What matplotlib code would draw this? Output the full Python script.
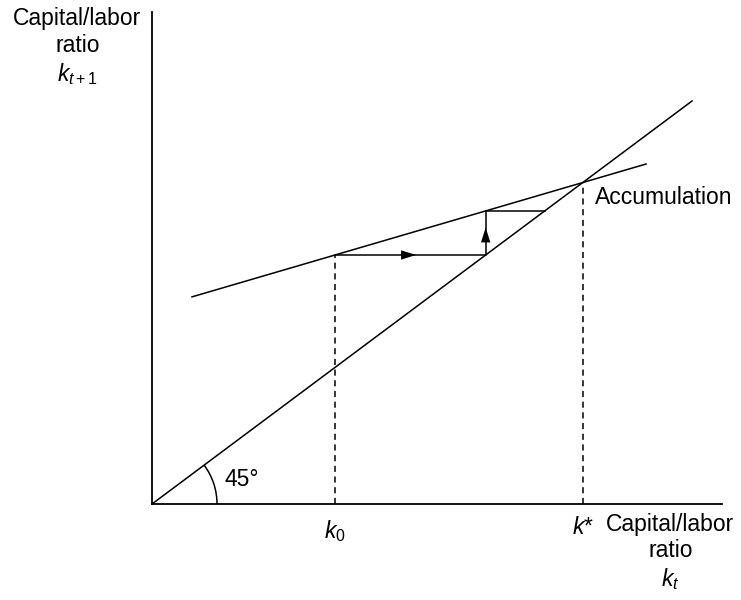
import matplotlib.pyplot as plt
from matplotlib.patches import Arc
import numpy as np

plt.rcParams['font.family'] = ['Liberation Sans', 'DejaVu Sans']
plt.rcParams['mathtext.fontset'] = 'custom'
plt.rcParams['mathtext.rm'] = 'Liberation Sans'
plt.rcParams['mathtext.it'] = 'Liberation Sans:italic'

# accumulation line k_{t+1} = a + b * k_t
acc_a = 4.85
acc_b = 0.392
acc_range = [0.74, 9.15]
diag_range = [0.0, 10.0]
k0 = 3.39
k_star = acc_a / (1 - acc_b)

# staircase from k0 (two steps)
k1 = acc_a + acc_b * k0
k2 = acc_a + acc_b * k1

x_axis_end = 10.56
y_axis_end = 12.2

fig = plt.figure(figsize=(7.41, 6.0), dpi=100)
ax = fig.add_axes([0, 0, 1, 1])
ax.set_xlim(-2.815, 10.907)
ax.set_ylim(-2.382, 12.506)
ax.axis('off')

lw = 1.1
# axes
ax.plot([0, x_axis_end], [0, 0], color='black', lw=1.3)
ax.plot([0, 0], [0, y_axis_end], color='black', lw=1.3)

# 45 degree line and accumulation line
xd = np.array(diag_range)
ax.plot(xd, xd, color='black', lw=lw)
xa = np.array(acc_range)
ax.plot(xa, acc_a + acc_b * xa, color='black', lw=lw)

# dashed drops
dash = (0, (4, 3))
ax.plot([k0, k0], [0, k1], color='black', lw=lw, linestyle=dash)
ax.plot([k_star, k_star], [0, k_star], color='black', lw=lw, linestyle=dash)

# staircase
ax.plot([k0, k1, k1, k2], [k1, k1, k2, k2], color='black', lw=lw)

# arrowheads
arrow_kw = dict(arrowstyle='-|>,head_length=0.9,head_width=0.28', mutation_scale=12,
                color='black', lw=0, shrinkA=0, shrinkB=0)
hx = k0 + 0.52 * (k1 - k0)
ax.annotate('', xy=(hx + 0.05, k1), xytext=(hx - 0.3, k1), arrowprops=arrow_kw)
vy = k1 + 0.58 * (k2 - k1)
ax.annotate('', xy=(k1, vy + 0.05), xytext=(k1, vy - 0.4), arrowprops=arrow_kw)

# 45 degree arc
r_px = 65
ax.add_patch(Arc((0, 0), 2 * r_px / 54, 2 * r_px / 40.3, theta1=0, theta2=45,
                 color='black', lw=lw))

fs = 16.5
ax.text(1.35, 0.6, '45°', fontsize=fs, ha='left', va='center')
ax.text(-1.38, 12.33, 'Capital/labor\nratio\n$k_{t+1}$', fontsize=fs,
        ha='center', va='top', linespacing=1.2)
ax.text(k0, -0.35, '$k_0$', fontsize=fs, ha='center', va='top')
ax.text(k_star, -0.3, '$k$*', fontsize=fs, ha='center', va='top')
ax.text(9.6, -0.22, 'Capital/labor\nratio\n$k_t$', fontsize=fs,
        ha='center', va='top', linespacing=1.2)
ax.text(8.2, 7.6, 'Accumulation', fontsize=fs, ha='left', va='center')

fig.savefig('out.png', dpi=100)
